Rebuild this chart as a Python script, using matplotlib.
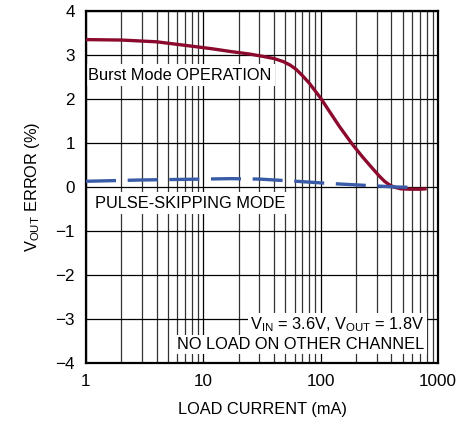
import matplotlib
matplotlib.use("Agg")
import matplotlib.pyplot as plt
from matplotlib.ticker import LogLocator, NullFormatter, FixedLocator
import numpy as np

plt.rcParams['font.family'] = ['Liberation Sans', 'DejaVu Sans']
plt.rcParams['mathtext.fontset'] = 'custom'
plt.rcParams['mathtext.rm'] = 'Liberation Sans'

# Data
burst_x = [1, 2, 4, 8, 12, 17, 25, 32, 40, 48, 55, 62, 70, 80, 90, 100, 120, 145, 185, 228, 275, 318, 350, 385, 420, 480, 575, 700, 800]
burst_y = [3.35, 3.34, 3.30, 3.20, 3.14, 3.08, 3.02, 2.97, 2.92, 2.85, 2.77, 2.67, 2.53, 2.36, 2.18, 2.02, 1.70, 1.37, 0.98, 0.68, 0.43, 0.24, 0.13, 0.05, 0.00, -0.04, -0.05, -0.05, -0.04]
ps_x = [1, 3, 10, 17, 30, 62, 120, 228, 440, 650]
ps_y = [0.13, 0.16, 0.18, 0.19, 0.18, 0.13, 0.08, 0.04, 0.00, -0.01]

xticks = [1, 10, 100, 1000]
xticklabels = ['1', '10', '100', '1000']
yticks = [-4, -3, -2, -1, 0, 1, 2, 3, 4]
yticklabels = ['\u22124', '\u22123', '\u22122', '\u22121', '0', '1', '2', '3', '4']

FS = 11.8

fig = plt.figure(figsize=(4.71, 4.21), dpi=100)
ax = fig.add_axes([86/471, 1 - 363/421, (438 - 86)/471, (363 - 11)/421])

ax.set_xscale('log')
ax.set_xlim(1, 1000)
ax.set_ylim(-4, 4)

ax.xaxis.set_major_locator(FixedLocator(xticks))
ax.set_xticklabels(xticklabels)
ax.xaxis.set_minor_locator(LogLocator(base=10, subs=np.arange(2, 10)))
ax.xaxis.set_minor_formatter(NullFormatter())
ax.set_yticks(yticks)
ax.set_yticklabels(yticklabels)

ax.grid(True, which='major', color='black', lw=0.9, zorder=0)
ax.grid(True, which='minor', axis='x', color='#333333', lw=0.9, zorder=0)
ax.tick_params(which='both', length=0, labelsize=FS + 0.5, pad=8, colors='black')

for s in ax.spines.values():
    s.set_linewidth(1.6)

ax.plot(burst_x, burst_y, color='#8b0a2e', lw=2.4, zorder=3,
        solid_capstyle='butt', solid_joinstyle='round')
ax.plot(ps_x, ps_y, color='#3a5ca8', lw=2.4, dashes=(9, 3.5), zorder=3)

box = dict(facecolor='white', edgecolor='none', pad=2.5)
ax.text(1.05, 2.54, 'Burst Mode OPERATION', fontsize=FS, ha='left', va='center',
        bbox=box, zorder=2)
ax.text(1.19, -0.37, 'PULSE-SKIPPING MODE', fontsize=FS, ha='left', va='center',
        bbox=box, zorder=2)
ax.text(767, -3.13, r'V$_{\mathregular{IN}}$ = 3.6V, V$_{\mathregular{OUT}}$ = 1.8V',
        fontsize=FS, ha='right', va='center', zorder=2,
        bbox=dict(facecolor='white', edgecolor='none', pad=1.5))
ax.text(767, -3.58, 'NO LOAD ON OTHER CHANNEL', fontsize=FS, ha='right', va='center',
        zorder=2, bbox=dict(facecolor='white', edgecolor='none', pad=1.5))

ax.set_xlabel('LOAD CURRENT (mA)', fontsize=FS, labelpad=9)
ax.set_ylabel(r'V$_{\mathregular{OUT}}$ ERROR (%)', fontsize=FS, labelpad=10)

fig.savefig('out.png', dpi=100)
